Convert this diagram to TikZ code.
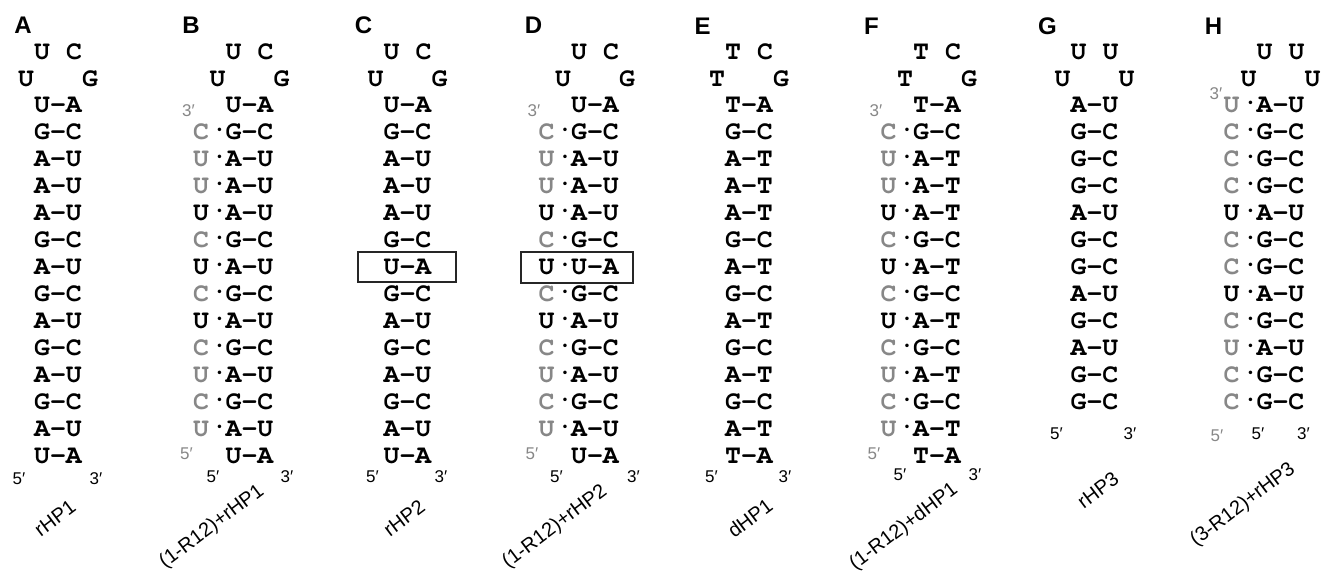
\documentclass[tikz,border=0pt]{standalone}
\usepackage{fontspec}
\setmainfont{Liberation Sans}
\newfontfamily\courfont{TeX Gyre Cursor}
\definecolor{gry}{RGB}{135,135,135}
\tikzset{
  nt/.style={inner sep=0pt, font=\fontsize{26.5}{26.5}\selectfont\courfont\bfseries},
  gnt/.style={nt, text=gry},
  primelab/.style={inner sep=0pt, font=\fontsize{17}{17}\selectfont},
  gprime/.style={primelab, text=gry},
  panlab/.style={inner sep=0pt, font=\fontsize{24}{24}\selectfont\bfseries},
  hplab/.style={inner sep=0pt, font=\fontsize{20}{20}\selectfont, rotate=37},
  hlbox/.style={draw=black!85, line width=1.4pt, inner sep=0pt},
}
\begin{document}
\begin{tikzpicture}[x=1pt,y=-1pt]
\useasboundingbox (0,0) rectangle (1323,573);
% ---------- panel letters
\node[panlab] (LA) at (23,25) {A};
\node[panlab] (LB) at (191,25) {B};
\node[panlab] (LC) at (363.5,25) {C};
\node[panlab] (LD) at (533.5,25) {D};
\node[panlab] (LE) at (702.5,26) {E};
\node[panlab] (LF) at (871.5,26) {F};
\node[panlab] (LG) at (1047.5,26) {G};
\node[panlab] (LH) at (1213.5,26) {H};
% ---------- loops
\foreach \p/\pc/\a/\b/\c/\d in {A/58/U/C/U/G, B/249.5/U/C/U/G, C/407.5/U/C/U/G, D/595/U/C/U/G,
   E/749/T/C/T/G, F/937/T/C/T/G, G/1094.5/U/U/U/U, H/1280.5/U/U/U/U}{
  \node[nt] (\p l1) at (\pc-16,51.5) {\a};
  \node[nt] (\p l2) at (\pc+16,51.5) {\b};
  \node[nt] (\p l3) at (\pc-32,78.5) {\c};
  \node[nt] (\p l4) at (\pc+32,78.5) {\d};
}
% ---------- stems
\foreach \s [count=\i] in {U-A,G-C,A-U,A-U,A-U,G-C,A-U,G-C,A-U,G-C,A-U,G-C,A-U,U-A}{
  \node[nt] (A\i) at (58,{105+27*(\i-1)}) {\s};
  \node[nt] (B\i) at (249.5,{105+27*(\i-1)}) {\s};
}
\foreach \s [count=\i] in {U-A,G-C,A-U,A-U,A-U,G-C,U-A,G-C,A-U,G-C,A-U,G-C,A-U,U-A}{
  \node[nt] (C\i) at (407.5,{105+27*(\i-1)}) {\s};
  \node[nt] (D\i) at (595,{105+27*(\i-1)}) {\s};
}
\foreach \s [count=\i] in {T-A,G-C,A-T,A-T,A-T,G-C,A-T,G-C,A-T,G-C,A-T,G-C,A-T,T-A}{
  \node[nt] (E\i) at (749,{105+27*(\i-1)}) {\s};
  \node[nt] (F\i) at (937,{105+27*(\i-1)}) {\s};
}
\foreach \s [count=\i] in {A-U,G-C,G-C,G-C,A-U,G-C,G-C,A-U,G-C,A-U,G-C,G-C}{
  \node[nt] (G\i) at (1094.5,{105+27*(\i-1)}) {\s};
  \node[nt] (H\i) at (1280.5,{105+27*(\i-1)}) {\s};
}
% ---------- R12 strands (B, D, F)
\foreach \p/\pc in {B/249.5, D/595, F/937}{
  \foreach \c/\st [count=\i from 2] in {C/gnt,U/gnt,U/gnt,U/nt,C/gnt,U/nt,C/gnt,U/nt,C/gnt,U/gnt,C/gnt,U/gnt}{
    \node[\st] (\p r\i) at (\pc-48.5,{105+27*(\i-1)}) {\c};
    \node[nt] (\p d\i) at (\pc-30,{105+27*(\i-1)}) {·};
  }
  \node[gprime] (\p g3) at (\pc-61,111) {3′};
  \node[gprime] (\p g5) at (\pc-63,454) {5′};
}
% ---------- R12 strand (H)
\foreach \c/\st [count=\i] in {U/gnt,C/gnt,C/gnt,C/gnt,U/nt,C/gnt,C/gnt,U/nt,C/gnt,U/gnt,C/gnt,C/gnt}{
  \node[\st] (Hr\i) at (1231.5,{105+27*(\i-1)}) {\c};
  \node[nt] (Hd\i) at (1250.5,{105+27*(\i-1)}) {·};
}
\node[gprime] (Hg3) at (1216,94) {3′};
\node[gprime] (Hg5) at (1217,436) {5′};
% ---------- 5' / 3' ends
\node[primelab] (A5) at (19,479) {5′};   \node[primelab] (A3) at (96,479) {3′};
\node[primelab] (B5) at (213,477) {5′};  \node[primelab] (B3) at (287,477) {3′};
\node[primelab] (C5) at (372.5,477) {5′};\node[primelab] (C3) at (441,477) {3′};
\node[primelab] (D5) at (556.5,477) {5′};\node[primelab] (D3) at (633.5,477) {3′};
\node[primelab] (E5) at (711.5,477) {5′};\node[primelab] (E3) at (785,477) {3′};
\node[primelab] (F5) at (900,475) {5′};  \node[primelab] (F3) at (975,475) {3′};
\node[primelab] (G5) at (1056.5,434) {5′};\node[primelab] (G3) at (1130,434) {3′};
\node[primelab] (H5) at (1258,434) {5′}; \node[primelab] (H3) at (1303.5,434) {3′};
% ---------- highlight boxes
\node[hlbox, minimum width=98pt, minimum height=30pt] (boxC) at (407,267) {};
\node[hlbox, minimum width=112pt, minimum height=31pt] (boxD) at (577,267.5) {};
% ---------- names
\node[hplab] (nA) at (55,518) {rHP1};
\node[hplab] (nB) at (212,527) {(1-R12)+rHP1};
\node[hplab] (nC) at (404,518) {rHP2};
\node[hplab] (nD) at (555,527) {(1-R12)+rHP2};
\node[hplab] (nE) at (750,518) {dHP1};
\node[hplab] (nF) at (904,527) {(1-R12)+dHP1};
\node[hplab] (nG) at (1098,490) {rHP3};
\node[hplab] (nH) at (1243,505) {(3-R12)+rHP3};
\end{tikzpicture}
\end{document}
